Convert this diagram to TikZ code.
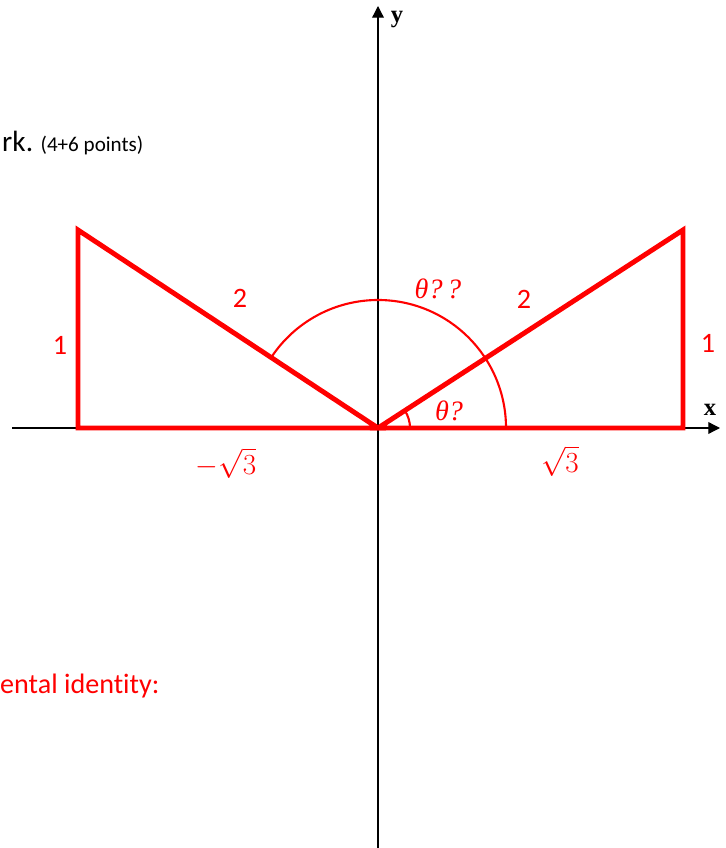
\documentclass[tikz,border=0pt]{standalone}
\usepackage{amsmath}
\usepackage{fontspec}
\setmainfont{Carlito}[Ligatures=CommonOff]
\newfontfamily\axisfont{Liberation Serif}
\usepackage{tikz}
\usetikzlibrary{
    positioning,
    arrows.meta
}

\begin{document}
\begin{tikzpicture}[
    x=0.03cm, y=-0.03cm,
    axis/.style={line width=1.1pt, -{Triangle[length=10pt, width=10pt]}},
    side/.style={draw=red, line width=4.2pt, line join=miter},
    anglearc/.style={draw=red, line width=1.8pt},
    redlabel/.style={text=red, inner sep=0pt, font=\fontsize{24}{28}\selectfont},
    anglelabel/.style={text=red, inner sep=0pt, font=\axisfont\itshape\fontsize{24}{27}\selectfont},
    axislabel/.style={inner sep=0pt, font=\axisfont\bfseries\fontsize{21}{24}\selectfont}
]
\useasboundingbox (0,0) rectangle (725,848);

% axes
\coordinate (O) at (378,428);
\coordinate (ybot) at (378,848);
\coordinate (ytop) at (378,6);
\coordinate (xleft) at (12,428);
\coordinate (xright) at (720,428);
\draw[axis] (ybot) -- (ytop);
\draw[axis] (xleft) -- (xright);
\node[axislabel] (ylab) at (397,20) {y};
\node[axislabel] (xlab) at (710,410) {x};

% triangles
\coordinate (LT) at (78,230);
\coordinate (LB) at (78,428);
\coordinate (RT) at (683,230);
\coordinate (RB) at (683,428);
\draw[side] (O) -- (LT) -- (LB) -- cycle;
\draw[side] (O) -- (RT) -- (RB) -- cycle;

% angles
\draw[anglearc] (O) ++(0.96cm,0) arc[start angle=0, end angle=33, radius=0.96cm];
\draw[anglearc] (O) ++(3.84cm,0) arc[start angle=0, end angle=146.6, radius=3.84cm];

% labels
\node[redlabel] (hypL) at (240,298) {2};
\node[redlabel] (hypR) at (524,299) {2};
\node[redlabel] (legL) at (60,345) {1};
\node[redlabel] (legR) at (708,343) {1};
\node[redlabel] (baseL) at (226,463) {$-\sqrt{3}$};
\node[redlabel] (baseR) at (560,461) {$\sqrt{3}$};
\node[anglelabel] (thetaTwo) at (438,289) {θ?\,?};
\node[anglelabel] (thetaOne) at (449,411) {θ?};

% text cut off at the left edge
\node[anchor=base west, inner sep=0pt, font=\fontsize{25}{30}\selectfont] (work) at (2,152) {rk.};
\node[anchor=base west, inner sep=0pt, font=\fontsize{18}{21}\selectfont] (points) at ([xshift=6pt]work.base east) {(4+6 points)};
\node[anchor=base west, inner sep=0pt, text=red, font=\fontsize{24}{28}\selectfont] (identity) at (0,693) {ental identity:};
\end{tikzpicture}
\end{document}
